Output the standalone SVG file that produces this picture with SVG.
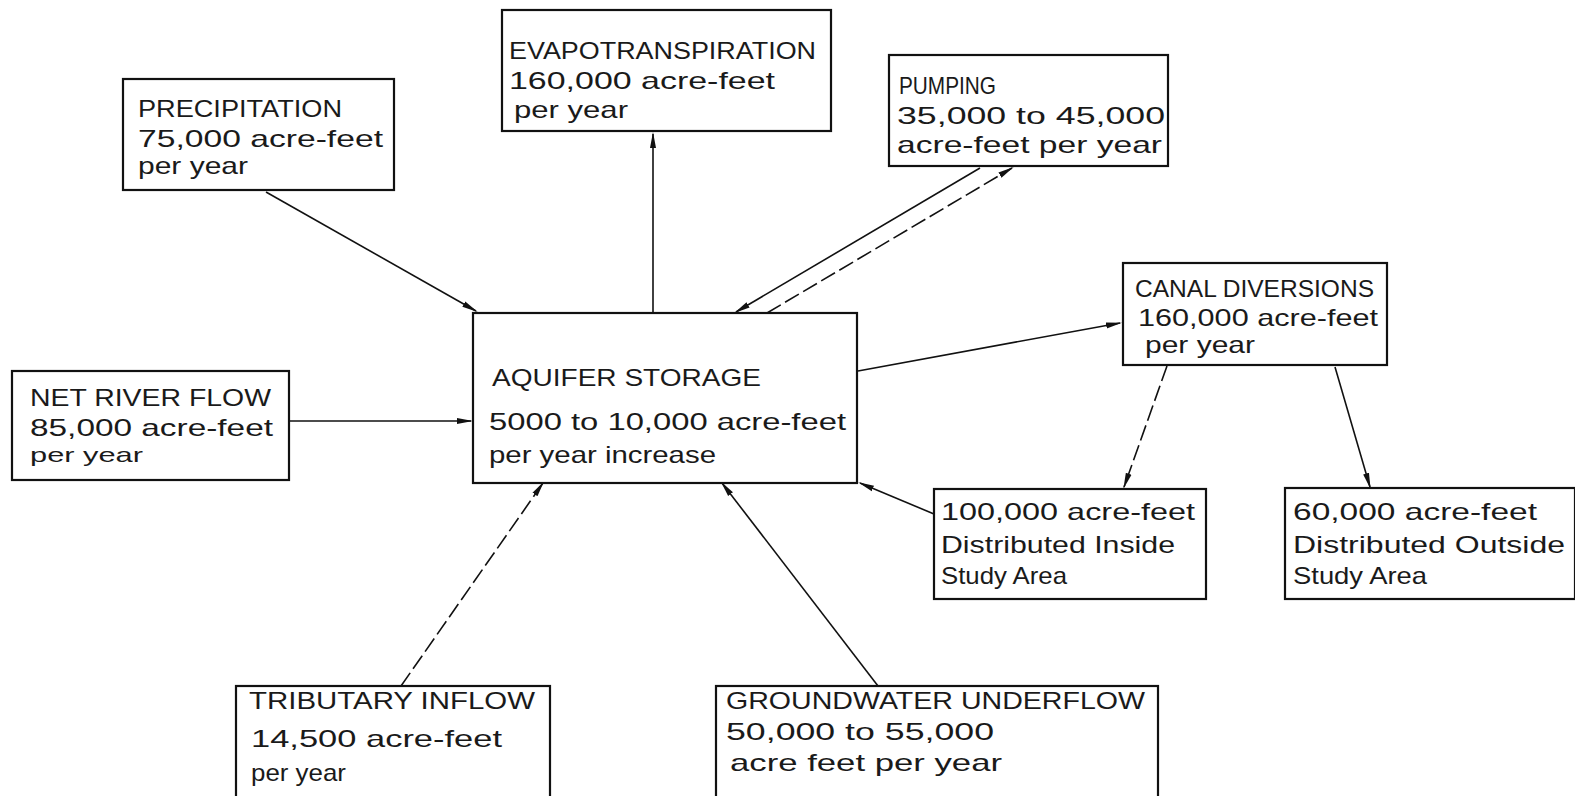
<svg xmlns="http://www.w3.org/2000/svg" width="1575" height="796" viewBox="0 0 1575 796">
<style>
.box{fill:#fff;stroke:#111;stroke-width:2.2}
.t{font-family:"Liberation Sans","DejaVu Sans",sans-serif;font-size:24px;fill:#1a1a1a}
.s{font-size:21px}
.c{fill:none;stroke:#111;stroke-width:1.6}
.d{stroke-dasharray:16 5}
</style>
<defs>
<marker id="ah" markerUnits="userSpaceOnUse" markerWidth="16" markerHeight="8" refX="14" refY="4" orient="auto">
<path d="M0,1 L16,4 L0,7 z" fill="#111"/>
</marker>
</defs>
<rect width="1575" height="796" fill="#fff"/>
<g id="connectors">
<line class="c" x1="266" y1="192" x2="476" y2="311" marker-end="url(#ah)"/>
<line class="c" x1="653" y1="313" x2="653" y2="134" marker-end="url(#ah)"/>
<line class="c" x1="980" y1="168" x2="736" y2="312" marker-end="url(#ah)"/>
<line class="c d" x1="767" y1="313" x2="1012" y2="168" marker-end="url(#ah)"/>
<line class="c" x1="858" y1="371" x2="1120" y2="323" marker-end="url(#ah)"/>
<line class="c" x1="289" y1="421" x2="471" y2="421" marker-end="url(#ah)"/>
<line class="c d" x1="1167" y1="366" x2="1124" y2="487" marker-end="url(#ah)"/>
<line class="c" x1="1335" y1="367" x2="1370" y2="487" marker-end="url(#ah)"/>
<line class="c" x1="934" y1="514" x2="860" y2="483" marker-end="url(#ah)"/>
<line class="c d" x1="401" y1="686" x2="543" y2="483" marker-end="url(#ah)"/>
<line class="c" x1="878" y1="686" x2="722" y2="483" marker-end="url(#ah)"/>
</g>
<g id="precipitation">
<rect class="box" x="123" y="79" width="271" height="111"/>
<text class="t" x="138" y="117" textLength="204" lengthAdjust="spacingAndGlyphs">PRECIPITATION</text>
<text class="t" x="138" y="147" textLength="245" lengthAdjust="spacingAndGlyphs">75,000 acre-feet</text>
<text class="t" x="138" y="174" textLength="110" lengthAdjust="spacingAndGlyphs">per year</text>
</g>
<g id="evapotranspiration">
<rect class="box" x="502" y="10" width="329" height="121"/>
<text class="t" x="509" y="59" textLength="307" lengthAdjust="spacingAndGlyphs">EVAPOTRANSPIRATION</text>
<text class="t" x="509" y="89" textLength="266" lengthAdjust="spacingAndGlyphs">160,000 acre-feet</text>
<text class="t" x="514" y="118" textLength="114" lengthAdjust="spacingAndGlyphs">per year</text>
</g>
<g id="pumping">
<rect class="box" x="889" y="55" width="279" height="111"/>
<text class="t" x="899" y="94" textLength="97" lengthAdjust="spacingAndGlyphs">PUMPING</text>
<text class="t" x="897" y="124" textLength="268" lengthAdjust="spacingAndGlyphs">35,000 to 45,000</text>
<text class="t" x="897" y="153" textLength="265" lengthAdjust="spacingAndGlyphs">acre-feet per year</text>
</g>
<g id="aquifer-storage">
<rect class="box" x="473" y="313" width="384" height="170"/>
<text class="t" x="492" y="386" textLength="269" lengthAdjust="spacingAndGlyphs">AQUIFER STORAGE</text>
<text class="t" x="489" y="430" textLength="357" lengthAdjust="spacingAndGlyphs">5000 to 10,000 acre-feet</text>
<text class="t" x="489" y="463" textLength="227" lengthAdjust="spacingAndGlyphs">per year increase</text>
</g>
<g id="canal-diversions">
<rect class="box" x="1123" y="263" width="264" height="102"/>
<text class="t" x="1135" y="297" textLength="239" lengthAdjust="spacingAndGlyphs">CANAL DIVERSIONS</text>
<text class="t" x="1138" y="326" textLength="240" lengthAdjust="spacingAndGlyphs">160,000 acre-feet</text>
<text class="t" x="1145" y="353" textLength="110" lengthAdjust="spacingAndGlyphs">per year</text>
</g>
<g id="net-river-flow">
<rect class="box" x="12" y="371" width="277" height="109"/>
<text class="t" x="30" y="406" textLength="241" lengthAdjust="spacingAndGlyphs">NET RIVER FLOW</text>
<text class="t" x="30" y="436" textLength="243" lengthAdjust="spacingAndGlyphs">85,000 acre-feet</text>
<text class="t s" x="30" y="462" textLength="113" lengthAdjust="spacingAndGlyphs">per year</text>
</g>
<g id="inside-study-area">
<rect class="box" x="934" y="489" width="272" height="110"/>
<text class="t" x="941" y="520" textLength="254" lengthAdjust="spacingAndGlyphs">100,000 acre-feet</text>
<text class="t" x="941" y="553" textLength="234" lengthAdjust="spacingAndGlyphs">Distributed Inside</text>
<text class="t" x="941" y="584" textLength="126" lengthAdjust="spacingAndGlyphs">Study Area</text>
</g>
<g id="outside-study-area">
<rect class="box" x="1285" y="488" width="290" height="111"/>
<text class="t" x="1293" y="520" textLength="244" lengthAdjust="spacingAndGlyphs">60,000 acre-feet</text>
<text class="t" x="1293" y="553" textLength="272" lengthAdjust="spacingAndGlyphs">Distributed Outside</text>
<text class="t" x="1293" y="584" textLength="134" lengthAdjust="spacingAndGlyphs">Study Area</text>
</g>
<g id="tributary-inflow">
<rect class="box" x="236" y="686" width="314" height="120"/>
<text class="t" x="249" y="709" textLength="286" lengthAdjust="spacingAndGlyphs">TRIBUTARY INFLOW</text>
<text class="t" x="251" y="747" textLength="251" lengthAdjust="spacingAndGlyphs">14,500 acre-feet</text>
<text class="t" x="251" y="781" textLength="95" lengthAdjust="spacingAndGlyphs">per year</text>
</g>
<g id="groundwater-underflow">
<rect class="box" x="716" y="686" width="442" height="120"/>
<text class="t" x="726" y="709" textLength="419" lengthAdjust="spacingAndGlyphs">GROUNDWATER UNDERFLOW</text>
<text class="t" x="726" y="740" textLength="268" lengthAdjust="spacingAndGlyphs">50,000 to 55,000</text>
<text class="t" x="730" y="771" textLength="272" lengthAdjust="spacingAndGlyphs">acre feet per year</text>
</g>
</svg>
